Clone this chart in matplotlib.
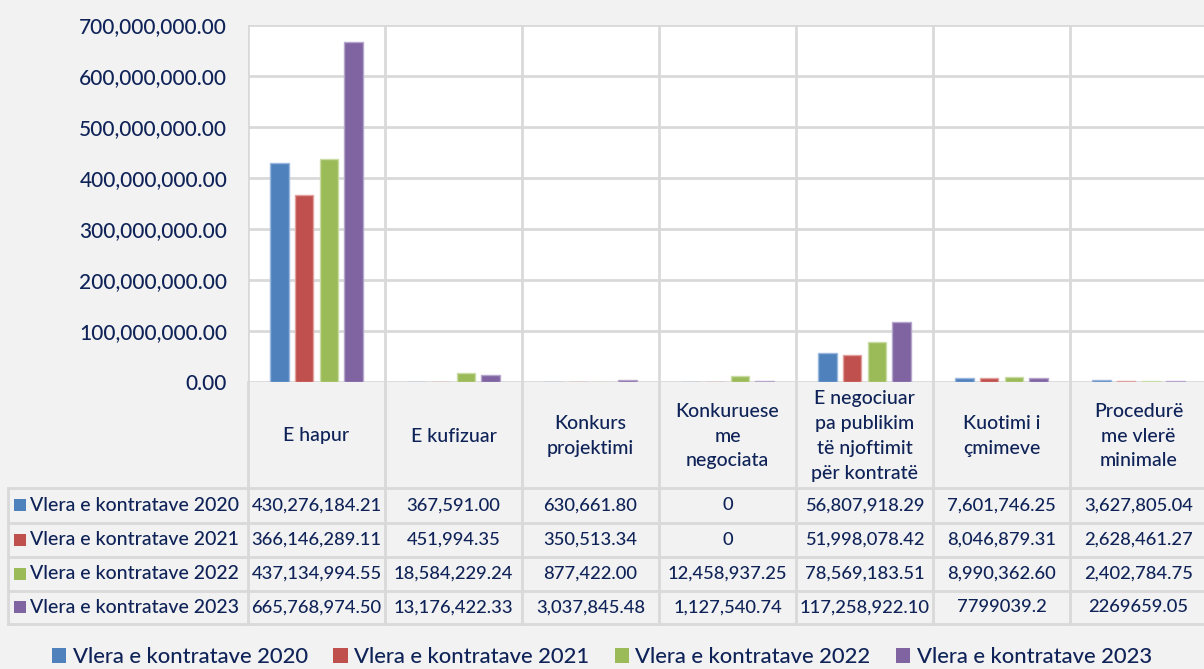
import matplotlib
matplotlib.use("Agg")
import matplotlib.pyplot as plt
import numpy as np

categories = ["E hapur", "E kufizuar", "Konkurs\nprojektimi", "Konkuruese\nme\nnegociata",
              "E negociuar\npa publikim\ntë njoftimit\npër kontratë", "Kuotimi i\nçmimeve",
              "Procedurë\nme vlerë\nminimale"]
series_names = ["Vlera e kontratave 2020", "Vlera e kontratave 2021",
                "Vlera e kontratave 2022", "Vlera e kontratave 2023"]
v2020 = [430276184.21, 367591.00, 630661.80, 0, 56807918.29, 7601746.25, 3627805.04]
v2021 = [366146289.11, 451994.35, 350513.34, 0, 51998078.42, 8046879.31, 2628461.27]
v2022 = [437134994.55, 18584229.24, 877422.00, 12458937.25, 78569183.51, 8990362.60, 2402784.75]
v2023 = [665768974.50, 13176422.33, 3037845.48, 1127540.74, 117258922.10, 7799039.2, 2269659.05]
# table text as printed in the source (last column formats differ)
labels2020 = ["430,276,184.21", "367,591.00", "630,661.80", "0", "56,807,918.29", "7,601,746.25", "3,627,805.04"]
labels2021 = ["366,146,289.11", "451,994.35", "350,513.34", "0", "51,998,078.42", "8,046,879.31", "2,628,461.27"]
labels2022 = ["437,134,994.55", "18,584,229.24", "877,422.00", "12,458,937.25", "78,569,183.51", "8,990,362.60", "2,402,784.75"]
labels2023 = ["665,768,974.50", "13,176,422.33", "3,037,845.48", "1,127,540.74", "117,258,922.10", "7799039.2", "2269659.05"]
yticks = [0, 100e6, 200e6, 300e6, 400e6, 500e6, 600e6, 700e6]

colors = ["#4f81bd", "#c0504d", "#9bbb59", "#8064a2"]
edges = ["#9bb7dc", "#e0a09e", "#c9dca6", "#b7a6cc"]
txt = "#0f2358"
grid_c = "#d9d9d9"
bg = "#f2f2f2"

plt.rcParams["font.family"] = ["Lato", "DejaVu Sans"]
plt.rcParams["font.weight"] = "medium"

W, H = 1204, 669
fig = plt.figure(figsize=(W / 100, H / 100), dpi=100, facecolor=bg)

# main bar axes, placed by pixel
left, top, bottom, colw = 248, 25, 382, 137
ax = fig.add_axes([left / W, 1 - bottom / H, 7 * colw / W, (bottom - top) / H])
ax.set_facecolor("white")
x = np.arange(len(categories))
step, bw = 0.18, 0.135
all_vals = [v2020, v2021, v2022, v2023]
for i, vals in enumerate(all_vals):
  ax.bar(x + (i - 1.5) * step, vals, width=bw, color=colors[i], edgecolor=edges[i],
         linewidth=1, label=series_names[i], zorder=3)
ax.set_xlim(-0.5, len(categories) - 0.5)
ax.set_ylim(0, 700e6)
ax.set_yticks(yticks)
ax.set_yticklabels(["{:,.2f}".format(t) for t in yticks], fontsize=15, color=txt)
ax.set_xticks([])
ax.set_xticks(np.arange(-0.5, len(categories) + 0.5, 1), minor=True)
ax.tick_params(axis="both", which="both", length=0, pad=15)
ax.grid(True, axis="y", color=grid_c, linewidth=2, zorder=0)
ax.grid(True, axis="x", which="minor", color=grid_c, linewidth=2, zorder=0)
for s in ax.spines.values():
  s.set_visible(False)

# data table in pixel coordinates
tab = fig.add_axes([0, 0, 1, 1], facecolor="none")
tab.set_xlim(0, W)
tab.set_ylim(H, 0)
tab.axis("off")
row_y = [488, 522.5, 556.7, 590.7, 624]
lw = 2
# vertical lines through header and rows
for k in range(8):
  xx = left + k * colw
  tab.plot([xx, xx], [bottom, row_y[-1]], color=grid_c, lw=lw)
tab.plot([8, 8], [row_y[0], row_y[-1]], color=grid_c, lw=lw)
for yy in row_y:
  tab.plot([8, W], [yy, yy], color=grid_c, lw=lw)

for k, c in enumerate(categories):
  tab.text(left + (k + 0.5) * colw, 436, c, ha="center", va="center", fontsize=14,
           color=txt, linespacing=1.55)

all_labels = [labels2020, labels2021, labels2022, labels2023]
for r in range(4):
  yc = (row_y[r] + row_y[r + 1]) / 2
  tab.scatter([19.5], [yc], marker="s", s=85, color=colors[r], linewidths=0)
  tab.text(30.5, yc, series_names[r], ha="left", va="center", fontsize=14, color=txt)
  for k, lab in enumerate(all_labels[r]):
    tab.text(left + (k + 0.5) * colw, yc, lab, ha="center", va="center", fontsize=13.2, color=txt)

# legend at the bottom
handles, labs = ax.get_legend_handles_labels()
leg = fig.legend(handles, labs, loc="center", bbox_to_anchor=(0.5, 1 - 657 / H), ncol=4,
                 frameon=False, fontsize=15.8, handlelength=0.65, handleheight=0.65,
                 handletextpad=0.3, columnspacing=1.15, labelcolor=txt)
for h in leg.legend_handles:
  h.set_edgecolor("none")

fig.savefig("out.png", dpi=100, facecolor=bg)
